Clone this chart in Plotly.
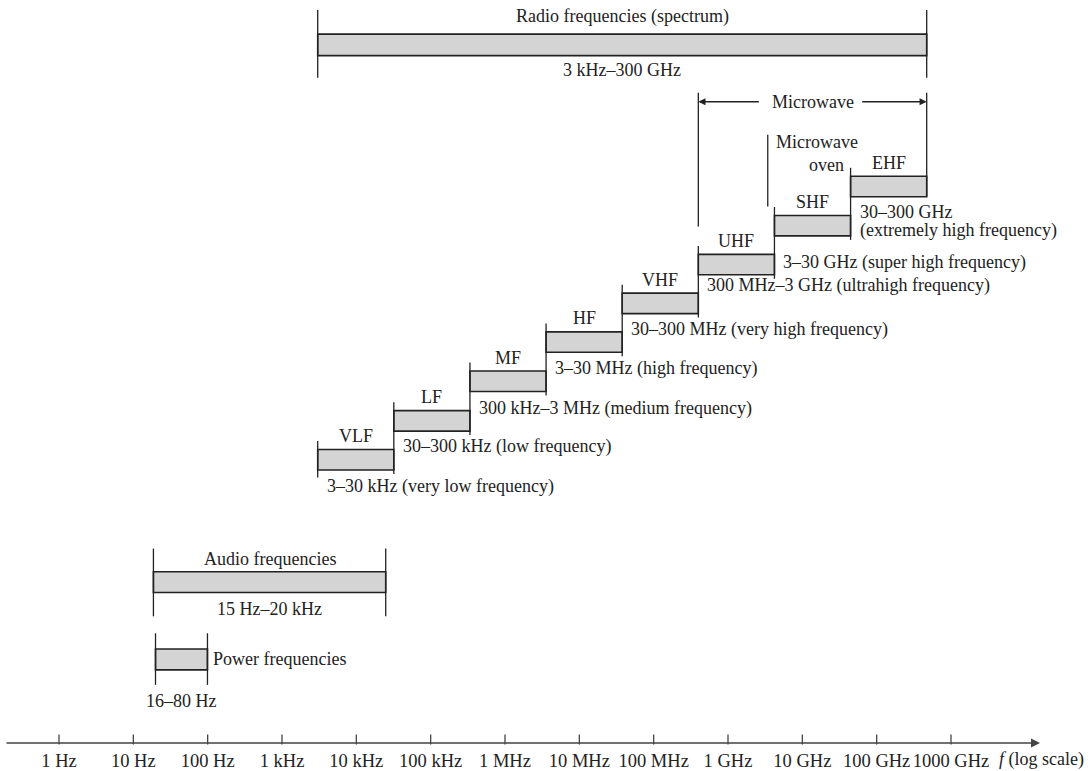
import numpy as np
import plotly.graph_objects as go

# ---------------- data ----------------
band_names = ["VLF", "LF", "MF", "HF", "VHF", "UHF", "SHF", "EHF"]
band_low_hz = [3e3, 3e4, 3e5, 3e6, 3e7, 3e8, 3e9, 3e10]
band_high_hz = [3e4, 3e5, 3e6, 3e7, 3e8, 3e9, 3e10, 3e11]
band_descriptions = [
    "3–30 kHz (very low frequency)",
    "30–300 kHz (low frequency)",
    "300 kHz–3 MHz (medium frequency)",
    "3–30 MHz (high frequency)",
    "30–300 MHz (very high frequency)",
    "300 MHz–3 GHz (ultrahigh frequency)",
    "3–30 GHz (super high frequency)",
    "30–300 GHz<br>(extremely high frequency)",
]

span_names = ["Radio frequencies (spectrum)", "Audio frequencies", "Power frequencies"]
span_low_hz = [3e3, 15, 16]
span_high_hz = [3e11, 2e4, 80]
span_descriptions = ["3 kHz–300 GHz", "15 Hz–20 kHz", "16–80 Hz"]

microwave_low_hz = 3e8
microwave_high_hz = 3e11
microwave_oven_hz = 2.45e9

tick_values_hz = [1, 10, 100, 1e3, 1e4, 1e5, 1e6, 1e7, 1e8, 1e9, 1e10, 1e11, 1e12]
tick_labels = ["1 Hz", "10 Hz", "100 Hz", "1 kHz", "10 kHz", "100 kHz", "1 MHz",
               "10 MHz", "100 MHz", "1 GHz", "10 GHz", "100 GHz", "1000 GHz"]

# ---------------- layout constants ----------------
W, H = 1088, 771
AXIS_Y = 745
FONT = "Liberation Serif"
INK = "#222222"
FILL = "#d4d4d4"
BAR_H = 20.5
TICK_LEN = 7
band_row_y = [461, 422, 382.3, 343, 304.2, 265.3, 226.3, 187]
band_desc_y = [488, 448, 410, 369, 330.7, 286, 263, 213]
span_row_y = [45, 583.7, 661.2]
span_bar_h = [21.5, 20.7, 21]


def log_range(f_a, px_a, f_b, px_b):
    la, lb = np.log10(f_a), np.log10(f_b)
    per = (px_b - px_a) / (lb - la)
    lo = la - px_a / per
    return [lo, lo + W / per]


fig = go.Figure()

bar_style = dict(color=FILL, line=dict(color=INK, width=1.6))

# radio bands (main x axis, hidden)
fig.add_trace(go.Bar(orientation="h", y=band_row_y, base=band_low_hz,
                     x=[h - l for l, h in zip(band_low_hz, band_high_hz)],
                     width=BAR_H, xaxis="x", yaxis="y",
                     marker=bar_style, hoverinfo="skip"))
# radio spectrum
fig.add_trace(go.Bar(orientation="h", y=[span_row_y[0]], base=[span_low_hz[0]],
                     x=[span_high_hz[0] - span_low_hz[0]], width=[span_bar_h[0]],
                     xaxis="x", yaxis="y",
                     marker=bar_style, hoverinfo="skip"))
# audio + power (x3)
fig.add_trace(go.Bar(orientation="h", y=span_row_y[1:], base=span_low_hz[1:],
                     x=[h - l for l, h in zip(span_low_hz[1:], span_high_hz[1:])],
                     width=span_bar_h[1:], xaxis="x3", yaxis="y",
                     marker=bar_style, hoverinfo="skip"))

# tick marks of the frequency axis (x2), drawn from the tick values
fig.add_trace(go.Scatter(x=tick_values_hz, y=[AXIS_Y - TICK_LEN / 2] * len(tick_values_hz),
                         mode="markers", xaxis="x2", yaxis="y", cliponaxis=False,
                         marker=dict(symbol="line-ns", size=TICK_LEN,
                                     line=dict(width=1.3, color="#444444")),
                         hoverinfo="skip"))


def vline(f, y0, y1, xs, ys):
    xs += [f, f, None]
    ys += [y0, y1, None]


# vertical marker lines for radio bands
lx, ly = [], []
for i in range(len(band_names)):
    top = band_row_y[i] - BAR_H / 2 - 8.5
    if i == 0:
        bot = band_row_y[i] + BAR_H / 2 + 7.5
    else:
        bot = band_row_y[i - 1] + BAR_H / 2 + 4
    vline(band_low_hz[i], top, bot, lx, ly)
vline(microwave_high_hz, 93, band_row_y[-1] + BAR_H / 2, lx, ly)
vline(microwave_low_hz, 93, 227, lx, ly)
vline(microwave_oven_hz, 135, 207, lx, ly)
vline(span_low_hz[0], 10, 78, lx, ly)
vline(span_high_hz[0], 10, 78, lx, ly)
fig.add_trace(go.Scatter(x=lx, y=ly, mode="lines", xaxis="x", yaxis="y",
                         line=dict(color=INK, width=1.3), hoverinfo="skip"))

# vertical lines for audio/power
px_, py_ = [], []
vline(span_low_hz[1], 550, 618, px_, py_)
vline(span_high_hz[1], 550, 618, px_, py_)
vline(span_low_hz[2], 635, 686.7, px_, py_)
vline(span_high_hz[2], 635, 686.7, px_, py_)
fig.add_trace(go.Scatter(x=px_, y=py_, mode="lines", xaxis="x3", yaxis="y",
                         line=dict(color=INK, width=1.3), hoverinfo="skip"))


def text(x, y, s, xref, xanchor="center", xshift=0, size=18):
    fig.add_annotation(x=x, y=y, xref=xref, yref="y", text=s, showarrow=False,
                       xanchor=xanchor, yanchor="middle", xshift=xshift,
                       font=dict(family=FONT, size=size, color=INK))


for i, name in enumerate(band_names):
    center = np.log10(np.sqrt(band_low_hz[i] * band_high_hz[i]))
    text(center, band_row_y[i] - 23.7, name, "x")
    for k, line in enumerate(band_descriptions[i].split("<br>")):
        text(np.log10(band_low_hz[i]), band_desc_y[i] + k * 18, line, "x",
             xanchor="left", xshift=7)

# radio spectrum labels
rc = np.log10(np.sqrt(span_low_hz[0] * span_high_hz[0]))
text(rc, 17, span_names[0], "x")
text(rc, 70, span_descriptions[0], "x")
# audio
ac = np.log10(np.sqrt(span_low_hz[1] * span_high_hz[1]))
text(ac, 560, span_names[1], "x3")
text(ac, 610.7, span_descriptions[1], "x3")
# power
pc = np.log10(np.sqrt(span_low_hz[2] * span_high_hz[2]))
text(np.log10(span_high_hz[2]), 660.7, span_names[2], "x3", xanchor="left", xshift=4)
text(pc, 703.3, span_descriptions[2], "x3")

# microwave bracket
mc = np.log10(np.sqrt(microwave_low_hz * microwave_high_hz))
text(mc, 102, "Microwave", "x")
for f, off in [(microwave_low_hz, 62), (microwave_high_hz, -66)]:
    fig.add_annotation(x=np.log10(f), y=102, xref="x", yref="y", text="",
                       showarrow=True, ax=off, ay=0, axref="pixel", ayref="pixel",
                       arrowhead=2, arrowsize=1.1, arrowwidth=1.3, arrowcolor=INK,
                       standoff=0)
# microwave oven
text(np.log10(microwave_oven_hz), 142, "Microwave", "x", xanchor="left", xshift=6)
text(np.log10(microwave_oven_hz), 165, "oven", "x", xanchor="left", xshift=39)

# frequency axis line with arrow
fig.add_annotation(x=1040 / W, y=0, xref="paper", yref="paper", text="",
                   showarrow=True, ax=-(1040 - 5), ay=0, axref="pixel", ayref="pixel",
                   arrowhead=2, arrowsize=1.2, arrowwidth=1.5, arrowcolor="#444444",
                   standoff=0)
fig.add_annotation(x=997 / W, y=0, xref="paper", yref="paper",
                   text="<i>f</i> (log scale)", showarrow=False,
                   xanchor="left", yanchor="middle", yshift=-16,
                   font=dict(family=FONT, size=18, color=INK))

fig.update_layout(
    width=W, height=H,
    margin=dict(l=0, r=0, t=0, b=H - AXIS_Y, pad=0),
    paper_bgcolor="white", plot_bgcolor="white",
    showlegend=False, barmode="overlay",
    xaxis=dict(type="log", range=log_range(3e3, 317.7, 3e11, 926.7),
               visible=False, fixedrange=True),
    xaxis2=dict(type="log", range=log_range(1, 59, 1e12, 951),
                overlaying="x", anchor="y", side="bottom",
                tickmode="array", tickvals=tick_values_hz, ticktext=tick_labels,
                ticks="", ticklabelstandoff=4,
                showgrid=False, zeroline=False, showline=False,
                tickfont=dict(family=FONT, size=18.5, color=INK), fixedrange=True),
    xaxis3=dict(type="log", range=log_range(1, 66, 1e12, 958),
                overlaying="x", anchor="y", visible=False, fixedrange=True),
    yaxis=dict(range=[AXIS_Y, 0], visible=False, fixedrange=True),
)

fig.write_html("out.html", config={"displayModeBar": False},
               post_script="document.body.style.margin='0';"
                           "document.body.style.overflow='hidden';")
